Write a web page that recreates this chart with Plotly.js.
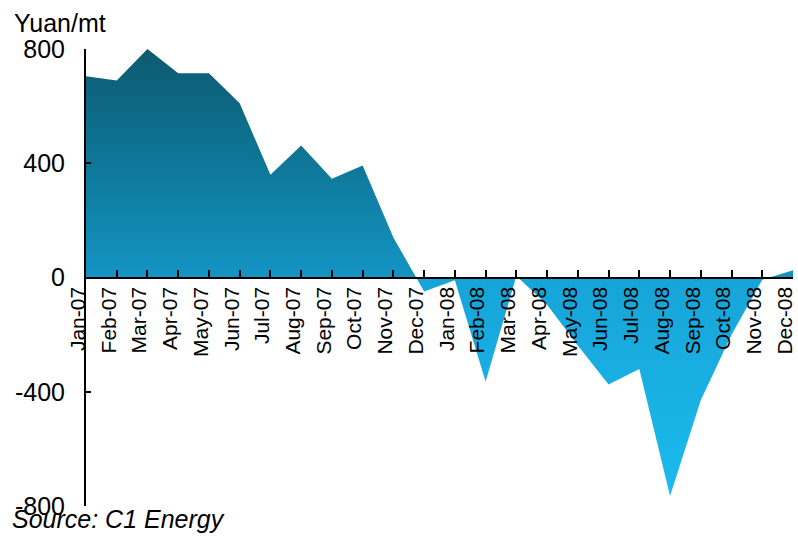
<!DOCTYPE html>
<html>
<head>
<meta charset="utf-8">
<script src="https://cdn.plot.ly/plotly-3.0.1.min.js"></script>
<style>html,body{margin:0;padding:0;background:#fff;}#chart{width:798px;height:536px;}</style>
</head>
<body>
<div id="chart"></div>
<script>
const months = ["Jan-07","Feb-07","Mar-07","Apr-07","May-07","Jun-07","Jul-07","Aug-07","Sep-07","Oct-07","Nov-07","Dec-07",
                "Jan-08","Feb-08","Mar-08","Apr-08","May-08","Jun-08","Jul-08","Aug-08","Sep-08","Oct-08","Nov-08","Dec-08"];
const margin = [705, 690, 800, 715, 715, 610, 360, 462, 346, 392, 140, -49,
                -10, -365, 5, -95, -238, -375, -320, -765, -430, -200, -8, 25];
const yTicks = [-800, -400, 0, 400, 800];
const unitLabel = "Yuan/mt";
const sourceLabel = "Source: C1 Energy";

const font = "Liberation Sans, Arial, sans-serif";

const trace = {
  x: months,
  y: margin,
  type: "scatter",
  mode: "lines",
  line: {width: 0, color: "rgba(0,0,0,0)"},
  fill: "tozeroy",
  fillgradient: {
    type: "vertical",
    start: -800,
    stop: 800,
    colorscale: [[0, "#1bbcee"], [0.499, "#17a4d8"], [0.5, "#1494c3"], [0.75, "#0e7798"], [1, "#0d5a70"]]
  },
  hoverinfo: "x+y"
};

const layout = {
  width: 798, height: 536,
  margin: {l: 86, r: 5, t: 49, b: 30},
  paper_bgcolor: "#fff", plot_bgcolor: "#fff",
  showlegend: false,
  font: {family: font, color: "#000"},
  xaxis: {
    type: "category",
    range: [0, months.length - 1],
    anchor: "free", position: 0.5,
    showline: true, linecolor: "#000", linewidth: 2,
    ticks: "inside", ticklen: 7, tickwidth: 2, tickcolor: "#000",
    tickangle: -90, ticklabelshift: -8,
    tickfont: {size: 21, family: font},
    showgrid: false, zeroline: false
  },
  yaxis: {
    range: [-800, 800],
    tickvals: yTicks,
    ticktext: yTicks.map(String),
    showline: true, linecolor: "#000", linewidth: 2,
    ticks: "inside", ticklen: 5, tickwidth: 2, tickcolor: "#000",
    tickfont: {size: 25, family: font},
    ticklabelstandoff: 14,
    showgrid: false, zeroline: false
  },
  annotations: [
    {text: unitLabel, xref: "paper", yref: "paper", x: -86/707, y: 1 + 10/457, xanchor: "left", yanchor: "bottom",
     showarrow: false, font: {size: 25, family: font}, xshift: 12},
    {text: "<i>" + sourceLabel + "</i>", xref: "paper", yref: "paper", x: -86/707, y: 0, xanchor: "left", yanchor: "top",
     showarrow: false, font: {size: 25, family: font}, xshift: 10, yshift: 3}
  ]
};

Plotly.newPlot("chart", [trace], layout, {displayModeBar: false, staticPlot: true});
</script>
</body>
</html>
